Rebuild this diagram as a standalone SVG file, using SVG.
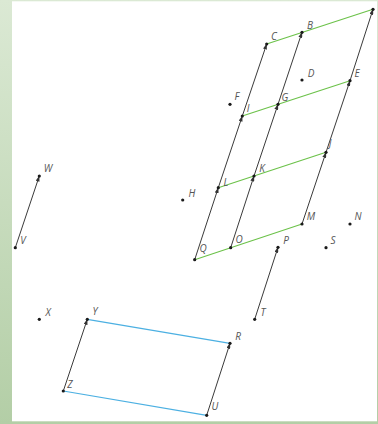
<svg xmlns="http://www.w3.org/2000/svg" width="378" height="424" viewBox="0 0 378 424">
<defs>
<linearGradient id="bg" x1="0" y1="0" x2="0" y2="1">
<stop offset="0" stop-color="#dbe9d4"/>
<stop offset="1" stop-color="#b3cea6"/>
</linearGradient>
<marker id="ah" viewBox="0 0 6 4" markerWidth="6" markerHeight="4" refX="5.5" refY="2" orient="auto" markerUnits="userSpaceOnUse">
<path d="M0,0 L6,2 L0,4 z" fill="#333"/>
</marker>
<style>
.v{stroke:#3a3a3a;stroke-width:1;fill:none;marker-end:url(#ah)}
.g{stroke:#6cc24a;stroke-width:1.2;fill:none}
.b{stroke:#4cb0e2;stroke-width:1.2;fill:none}
.d{fill:#1a1a1a}
.t{font-family:"Open Sans","Noto Sans",sans-serif;font-style:italic;font-size:10px;fill:#555;text-anchor:middle}
</style>
</defs>
<rect x="0" y="0" width="378" height="424" fill="url(#bg)"/>
<rect x="12" y="1.3" width="365" height="420" fill="#ffffff"/>
<g id="connectors">
<line class="g" x1="266.7" y1="44" x2="373" y2="9.3"/>
<line class="g" x1="242.3" y1="116" x2="350" y2="80.7"/>
<line class="g" x1="218.3" y1="187.7" x2="326" y2="152.3"/>
<line class="g" x1="194.7" y1="259.7" x2="302" y2="224"/>
<line class="b" x1="87.3" y1="319.3" x2="230" y2="343.3"/>
<line class="b" x1="63.3" y1="391" x2="206.7" y2="415.3"/>
<line class="v" x1="194.7" y1="259.7" x2="218.3" y2="187.7"/>
<line class="v" x1="218.3" y1="187.7" x2="242.3" y2="116"/>
<line class="v" x1="242.3" y1="116" x2="266.7" y2="44"/>
<line class="v" x1="230.7" y1="247.7" x2="254" y2="176"/>
<line class="v" x1="254" y1="176" x2="278" y2="104.3"/>
<line class="v" x1="278" y1="104.3" x2="302" y2="32.3"/>
<line class="v" x1="302" y1="224" x2="326" y2="152.3"/>
<line class="v" x1="326" y1="152.3" x2="350" y2="80.7"/>
<line class="v" x1="350" y1="80.7" x2="373" y2="9.3"/>
<line class="v" x1="15.3" y1="247.7" x2="39.3" y2="176"/>
<line class="v" x1="254.7" y1="319.3" x2="278" y2="247.3"/>
<line class="v" x1="63.3" y1="391" x2="87.3" y2="319.3"/>
<line class="v" x1="206.7" y1="415.3" x2="230" y2="343.3"/>
</g>
<g id="A"><circle class="d" cx="373" cy="9.3" r="1.6"/></g>
<g id="B"><circle class="d" cx="302" cy="32.3" r="1.6"/><text class="t" x="310" y="28.5">B</text></g>
<g id="C"><circle class="d" cx="266.7" cy="44" r="1.6"/><text class="t" x="274" y="39.5">C</text></g>
<g id="D"><circle class="d" cx="302" cy="80" r="1.6"/><text class="t" x="311" y="76.5">D</text></g>
<g id="E"><circle class="d" cx="350" cy="80.7" r="1.6"/><text class="t" x="357" y="76.5">E</text></g>
<g id="F"><circle class="d" cx="230" cy="104.3" r="1.6"/><text class="t" x="237" y="99.5">F</text></g>
<g id="G"><circle class="d" cx="278" cy="104.3" r="1.6"/><text class="t" x="285" y="100.5">G</text></g>
<g id="I"><circle class="d" cx="242.3" cy="116" r="1.6"/><text class="t" x="248" y="111.5">I</text></g>
<g id="J"><circle class="d" cx="326" cy="152.3" r="1.6"/><text class="t" x="330" y="146.5">J</text></g>
<g id="K"><circle class="d" cx="254" cy="176" r="1.6"/><text class="t" x="262" y="171.5">K</text></g>
<g id="L"><circle class="d" cx="218.3" cy="187.7" r="1.6"/><text class="t" x="226" y="185.5">L</text></g>
<g id="H"><circle class="d" cx="182.7" cy="200" r="1.6"/><text class="t" x="192" y="196.5">H</text></g>
<g id="M"><circle class="d" cx="302" cy="224" r="1.6"/><text class="t" x="311" y="220">M</text></g>
<g id="N"><circle class="d" cx="350" cy="224" r="1.6"/><text class="t" x="358" y="220">N</text></g>
<g id="O"><circle class="d" cx="230.7" cy="247.7" r="1.6"/><text class="t" x="239" y="242.5">O</text></g>
<g id="Q"><circle class="d" cx="194.7" cy="259.7" r="1.6"/><text class="t" x="203" y="251.5">Q</text></g>
<g id="P"><circle class="d" cx="278" cy="247.3" r="1.6"/><text class="t" x="286" y="243.5">P</text></g>
<g id="S"><circle class="d" cx="326" cy="247.7" r="1.6"/><text class="t" x="333" y="243.5">S</text></g>
<g id="T"><circle class="d" cx="254.7" cy="319.3" r="1.6"/><text class="t" x="263" y="315.5">T</text></g>
<g id="W"><circle class="d" cx="39.3" cy="176" r="1.6"/><text class="t" x="48" y="171.5">W</text></g>
<g id="V"><circle class="d" cx="15.3" cy="247.7" r="1.6"/><text class="t" x="23" y="243.5">V</text></g>
<g id="X"><circle class="d" cx="39.3" cy="319.3" r="1.6"/><text class="t" x="48" y="315.5">X</text></g>
<g id="Y"><circle class="d" cx="87.3" cy="319.3" r="1.6"/><text class="t" x="95" y="315">Y</text></g>
<g id="R"><circle class="d" cx="230" cy="343.3" r="1.6"/><text class="t" x="238" y="339.5">R</text></g>
<g id="Z"><circle class="d" cx="63.3" cy="391" r="1.6"/><text class="t" x="70" y="387.5">Z</text></g>
<g id="U"><circle class="d" cx="206.7" cy="415.3" r="1.6"/><text class="t" x="215" y="410">U</text></g>
</svg>
